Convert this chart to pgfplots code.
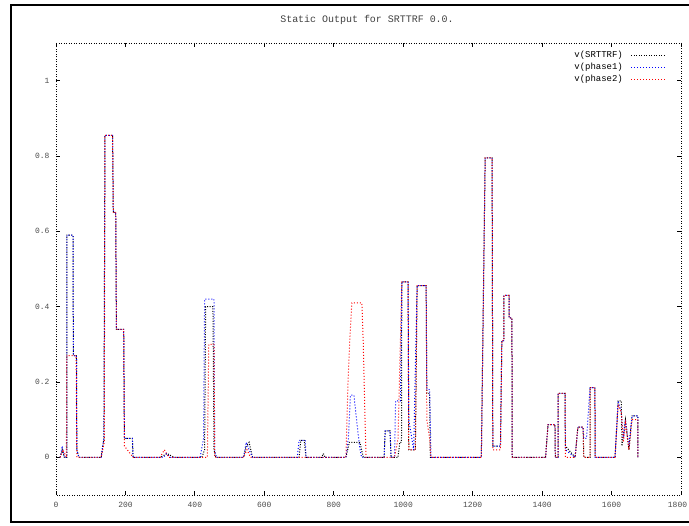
\documentclass[border=0pt]{standalone}
\usepackage{fontspec}
\setmainfont{Liberation Mono}
\usepackage{pgfplots}
\pgfplotsset{compat=1.18}

\pgfplotstableread{
x y
12 0
18 0.02
24 0
31 0
31 0.59
49 0.59
50 0.27
59 0.27
60 0.02
66 0
130 0
138 0.05
141 0.855
163 0.855
165 0.65
172 0.65
174 0.34
195 0.34
197 0.05
220 0.05
222 0
300 0
320 0.01
340 0
420 0
428 0.02
431 0.40
452 0.40
455 0.02
460 0
540 0
548 0.03
556 0.04
566 0
700 0
705 0.045
715 0.045
720 0
765 0
770 0.01
775 0
835 0
845 0.04
875 0.04
885 0
945 0
948 0.07
962 0.07
965 0
985 0
990 0.04
995 0.04
996 0.466
1014 0.466
1016 0.02
1035 0.02
1040 0.456
1066 0.456
1068 0.17
1076 0.17
1078 0
1225 0
1236 0.795
1256 0.795
1258 0.03
1280 0.03
1284 0.31
1290 0.31
1290 0.43
1305 0.43
1305 0.37
1313 0.37
1314 0
1410 0
1417 0.087
1437 0.087
1438 0
1446 0
1446 0.17
1466 0.17
1467 0.03
1495 0
1503 0.08
1518 0.08
1520 0
1538 0
1538 0.185
1552 0.185
1553 0
1610 0
1619 0.15
1628 0.15
1630 0.03
1640 0.10
1650 0.02
1659 0.11
1676 0.11
1676 0
}\serA

\pgfplotstableread{
x y
12 0
18 0.03
24 0
31 0
31 0.59
49 0.59
50 0.27
59 0.27
60 0.02
66 0
130 0
138 0.05
141 0.855
163 0.855
165 0.65
172 0.65
174 0.34
195 0.34
197 0.05
220 0.05
222 0
310 0
318 0.01
330 0
415 0
425 0.05
428 0.42
455 0.42
457 0.02
462 0
540 0
548 0.04
556 0.02
566 0
695 0
700 0.045
718 0.045
720 0
835 0
842 0.05
848 0.165
858 0.165
868 0.08
874 0.03
880 0
945 0
948 0.07
962 0.07
965 0
975 0
978 0.15
992 0.15
996 0.466
1014 0.466
1016 0.10
1030 0.02
1040 0.456
1066 0.456
1068 0.18
1076 0.18
1080 0
1225 0
1236 0.795
1256 0.795
1258 0.03
1280 0.03
1284 0.31
1290 0.31
1290 0.43
1305 0.43
1305 0.37
1313 0.37
1314 0
1410 0
1417 0.087
1437 0.087
1438 0
1446 0
1446 0.17
1466 0.17
1467 0.02
1495 0
1503 0.08
1518 0.08
1520 0.05
1528 0.05
1538 0.185
1552 0.185
1553 0
1610 0
1619 0.15
1628 0.12
1634 0.05
1640 0.10
1650 0.03
1659 0.11
1676 0.11
1676 0
}\serB

\pgfplotstableread{
x y
12 0
20 0.02
30 0
31 0.27
58 0.27
60 0
130 0
139 0.04
141 0.855
163 0.855
165 0.65
172 0.65
174 0.34
195 0.34
197 0.03
222 0
300 0
312 0.02
325 0
436 0
440 0.30
455 0.30
457 0
540 0
550 0.02
560 0
835 0
841 0.20
846 0.31
852 0.41
881 0.41
885 0.30
890 0.10
893 0
975 0
985 0.05
996 0.466
1014 0.466
1016 0.02
1035 0.02
1040 0.456
1066 0.456
1068 0.10
1076 0.05
1080 0
1225 0
1236 0.795
1256 0.795
1258 0.02
1280 0.02
1284 0.31
1290 0.31
1290 0.43
1305 0.43
1305 0.37
1313 0.37
1314 0
1410 0
1417 0.087
1437 0.087
1438 0
1446 0
1446 0.17
1466 0.17
1467 0
1495 0
1503 0.08
1518 0.08
1520 0
1538 0
1538 0.185
1552 0.185
1553 0
1610 0
1619 0.14
1628 0.12
1634 0.04
1640 0.09
1650 0.02
1659 0.10
1676 0.10
1676 0
}\serC

\begin{document}
\begin{tikzpicture}
\useasboundingbox (0,0) rectangle (689bp,526bp);
\draw[black, line width=2bp] (11bp,4bp) rectangle (695bp,521bp);
\node[font=\fontsize{10}{12}\selectfont, text=black!75] at (367bp,506bp) {Static Output for SRTTRF 0.0.};
\begin{axis}[
  at={(56bp,31bp)}, anchor=south west,
  scale only axis, width=625bp, height=452bp,
  xmin=0, xmax=1800, ymin=-0.1, ymax=1.1,
  xtick={0,200,...,1800}, ytick={0,0.2,0.4,0.6,0.8,1},
  xticklabels={0,200,400,600,800,1000,1200,1400,1600,{\hspace*{-7bp}1800}},
  axis line style={black, line width=0.9bp, dash pattern=on 1bp off 1.5bp},
  tick align=inside, major tick length=4bp,
  tick style={black, line width=0.8bp},
  tick label style={font=\fontsize{8}{10}\selectfont, text=black!70},
  /pgf/number format/assume math mode=true,
  /pgf/number format/1000 sep={},
  xticklabel style={yshift=-4bp},
  yticklabel style={xshift=-3bp},
  legend plot pos=right,
  legend cell align=right,
  legend style={at={(1,1)}, anchor=north east, xshift=-14bp, yshift=-5bp,
    draw=none, fill=none, font=\fontsize{9}{10}\selectfont,
    row sep=0bp, column sep=6bp, inner sep=1bp},
  legend image code/.code={\draw[#1] (0bp,0bp) -- (34bp,0bp);},
]
\addplot[black, line width=1bp, dash pattern=on 1bp off 1.5bp] table {\serA};
\addlegendentry{v(SRTTRF)}
\addplot[blue, line width=1bp, dash pattern=on 1bp off 2bp] table {\serB};
\addlegendentry{v(phase1)}
\addplot[red, line width=1bp, dash pattern=on 1bp off 2bp] table {\serC};
\addlegendentry{v(phase2)}
\end{axis}
\end{tikzpicture}
\end{document}
